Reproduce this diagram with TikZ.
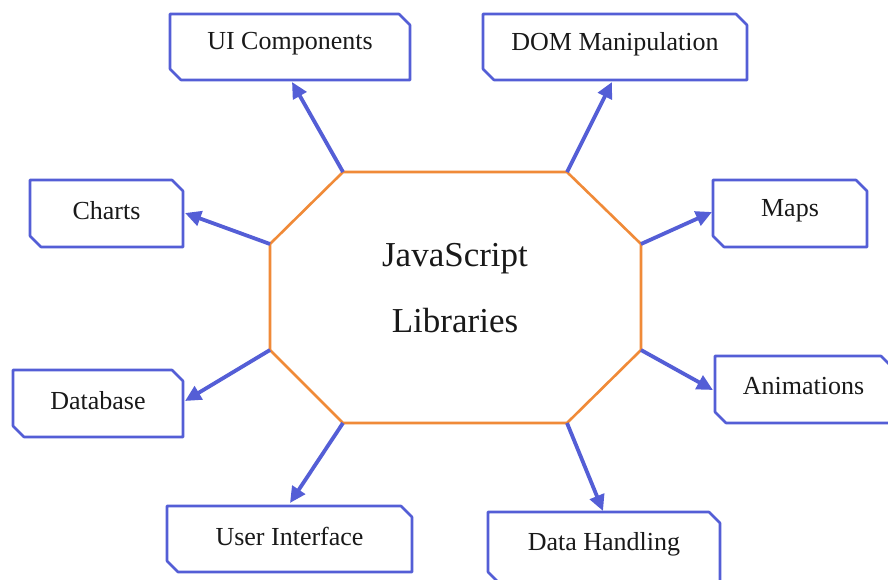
\documentclass[tikz,border=0pt]{standalone}
\usepackage{fontspec}
\setmainfont{Liberation Serif}
\usetikzlibrary{arrows.meta,calc}
\definecolor{boxblue}{RGB}{84,94,214}
\definecolor{hexorange}{RGB}{240,138,56}
\tikzset{
  boxline/.style={draw=boxblue,line width=2.6pt,line join=round},
  octline/.style={draw=hexorange,line width=2.6pt,line join=miter},
  arr/.style={draw=boxblue,line width=3.8pt,-{Triangle[length=16pt,width=15pt]}},
  lbl/.style={font=\fontsize{26}{28}\selectfont,text=black!90,inner sep=0pt},
}
% box with snipped top-right and bottom-left corners
\newcommand{\snipbox}[6]{%
  \path (#2,#3) coordinate (#1-nw) (#4,#5) coordinate (#1-se);
  \draw[boxline] (#2,#3) -- (#4-11,#3) -- (#4,#3+11) -- (#4,#5) -- (#2+11,#5) -- (#2,#5-11) -- cycle;
  \node[lbl] (#1) at ($(#1-nw)!0.5!(#1-se)+(0,-3)$) {#6};
}
\begin{document}
\begin{tikzpicture}[x=1pt,y=-1pt]
\useasboundingbox[fill=white] (0,0) rectangle (888,579);
\begin{scope}
\clip (0,0) rectangle (888,579);
% centre octagon
\path (343,172) coordinate (o1) (567,172) coordinate (o2)
      (641,244) coordinate (o3) (641,350) coordinate (o4)
      (567,423) coordinate (o5) (343,423) coordinate (o6)
      (270,350) coordinate (o7) (270,244) coordinate (o8);
\draw[octline] (o1) -- (o2) -- (o3) -- (o4) -- (o5) -- (o6) -- (o7) -- (o8) -- cycle;
\node[font=\fontsize{35}{66}\selectfont,text=black!90,align=center] (js) at (455,288) {JavaScript\\Libraries};
% outer boxes
\snipbox{ui}{170}{14}{410}{80}{UI Components}
\snipbox{dom}{483}{14}{747}{80}{DOM Manipulation}
\snipbox{charts}{30}{180}{183}{247}{Charts}
\snipbox{maps}{713}{180}{867}{247}{Maps}
\snipbox{db}{13}{370}{183}{437}{Database}
\snipbox{anim}{715}{356}{892}{423}{Animations}
\snipbox{ui2}{167}{506}{412}{572}{User Interface}
\snipbox{dh}{488}{512}{720}{583}{Data Handling}
% arrow tips
\path (292,82) coordinate (t-ui) (612,82) coordinate (t-dom)
      (185,213) coordinate (t-charts) (712,212) coordinate (t-maps)
      (185,401) coordinate (t-db) (713,390) coordinate (t-anim)
      (290,503) coordinate (t-ui2) (603,511) coordinate (t-dh);
\draw[arr] (o1) -- (t-ui);
\draw[arr] (o2) -- (t-dom);
\draw[arr] (o8) -- (t-charts);
\draw[arr] (o3) -- (t-maps);
\draw[arr] (o7) -- (t-db);
\draw[arr] (o4) -- (t-anim);
\draw[arr] (o6) -- (t-ui2);
\draw[arr] (o5) -- (t-dh);
\end{scope}
\end{tikzpicture}
\end{document}
